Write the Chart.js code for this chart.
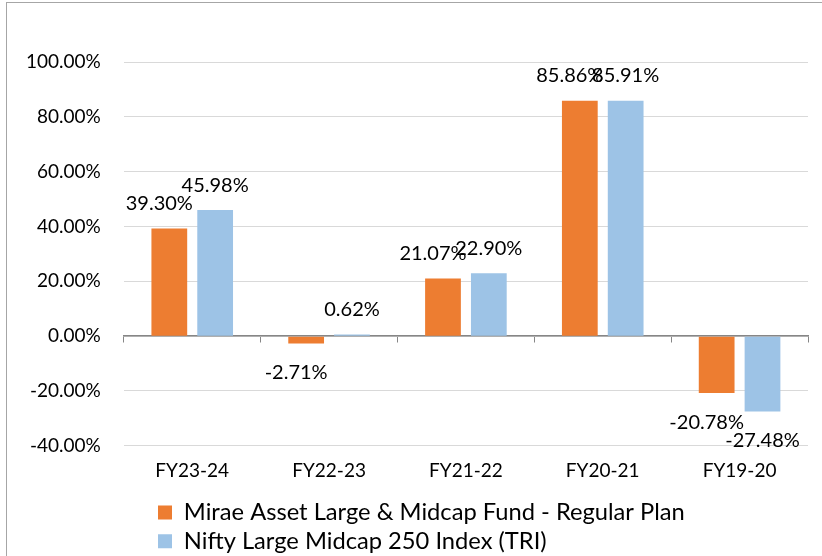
<!DOCTYPE html>
<html>
<head>
<meta charset="utf-8">
<script src="https://cdn.jsdelivr.net/npm/chart.js@4/dist/chart.umd.min.js"></script>
<style>
  html, body { margin: 0; padding: 0; background: #fff; }
  #wrap { position: relative; width: 822px; height: 556px; overflow: hidden; }
  #frame { position: absolute; left: 6px; top: 2px; width: 900px; height: 700px; border: 1px solid #a6a6a6; }
  canvas { position: absolute; left: 0; top: 0; }
</style>
</head>
<body>
<div id="wrap">
  <div id="frame"></div>
  <canvas id="chart" width="822" height="556"></canvas>
</div>
<script>
// chart data
const years = ["FY23-24", "FY22-23", "FY21-22", "FY20-21", "FY19-20"];
const fundReturns = [39.30, -2.71, 21.07, 85.86, -20.78];
const indexReturns = [45.98, 0.62, 22.90, 85.91, -27.48];
const fundName = "Mirae Asset Large & Midcap Fund - Regular Plan";
const indexName = "Nifty Large Midcap 250 Index (TRI)";

const FONT = "Lato, 'Liberation Sans', sans-serif";

// draws the % value above / below every bar
const valueLabels = {
  id: "valueLabels",
  afterDatasetsDraw(chart) {
    const ctx = chart.ctx;
    ctx.save();
    ctx.font = "20px " + FONT;
    ctx.fillStyle = "#000";
    ctx.textAlign = "center";
    ctx.textBaseline = "middle";
    chart.data.datasets.forEach(function (ds, i) {
      const shift = i === 0 ? -10 : 0;
      chart.getDatasetMeta(i).data.forEach(function (bar, j) {
        const v = ds.data[j];
        const txt = v.toFixed(2) + "%";
        if (v >= 0) {
          ctx.fillText(txt, bar.x + shift, bar.y - 25);
        } else {
          ctx.fillText(txt, bar.x + shift, bar.y + 29);
        }
      });
    });
    ctx.restore();
  }
};

// move the legend rows so they start under the plot like in the original
const legendShift = {
  id: "legendShift",
  afterLayout(chart) {
    chart.legend.left = 153;
    chart.legend.top += 7;
    chart.legend.bottom += 7;
  }
};

new Chart(document.getElementById("chart"), {
  type: "bar",
  data: {
    labels: years,
    datasets: [
      {
        label: fundName,
        data: fundReturns,
        backgroundColor: "#ED7D31",
        xAxisID: "x"
      },
      {
        label: indexName,
        data: indexReturns,
        backgroundColor: "#9DC3E6",
        xAxisID: "x"
      }
    ]
  },
  options: {
    responsive: false,
    animation: false,
    categoryPercentage: 0.67,
    barPercentage: 0.78,
    layout: { padding: { left: 3, right: 14, top: 62, bottom: 0 } },
    plugins: {
      tooltip: { enabled: false },
      legend: {
        position: "bottom",
        align: "start",
        labels: {
          boxWidth: 14,
          boxHeight: 14,
          padding: 5,
          color: "#000",
          font: { family: FONT, size: 23.7 }
        }
      }
    },
    scales: {
      x: {
        grid: { display: false },
        border: { display: false },
        ticks: { color: "#000", font: { family: FONT, size: 19 }, padding: 6 }
      },
      x2: {
        type: "category",
        position: { y: 0 },
        offset: true,
        grid: { offset: true, drawOnChartArea: false, tickLength: 6, color: "#868686" },
        border: { color: "#868686", width: 1.5 },
        ticks: { display: false }
      },
      y: {
        min: -40,
        max: 100,
        ticks: {
          stepSize: 20,
          color: "#000",
          padding: 23,
          font: { family: FONT, size: 19 },
          callback: function (v) { return v.toFixed(2) + "%"; }
        },
        grid: { color: "#d9d9d9", drawTicks: false },
        border: { display: false }
      }
    }
  },
  plugins: [valueLabels, legendShift]
});
</script>
</body>
</html>
